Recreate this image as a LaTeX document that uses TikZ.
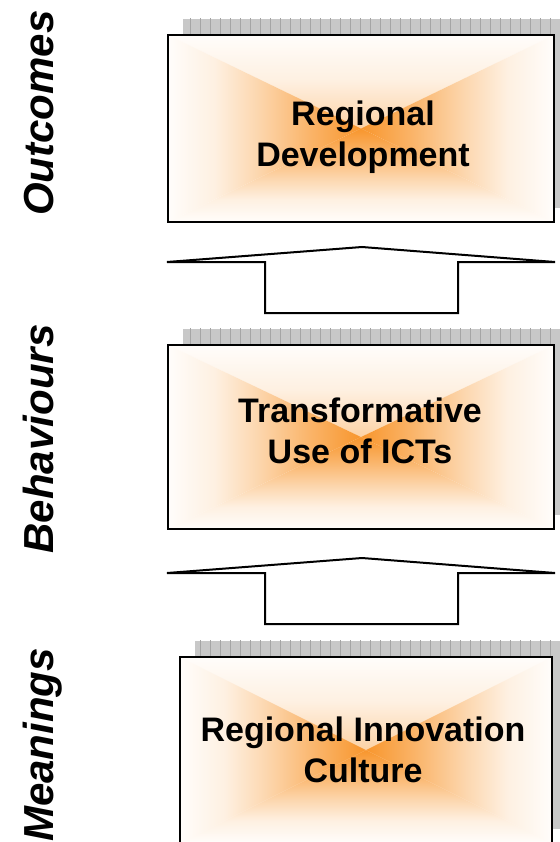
\documentclass[tikz,border=0pt]{standalone}
\usepackage{fontspec}
\setmainfont{Liberation Sans}
\usetikzlibrary{calc}
\definecolor{oc}{RGB}{248,150,45}
\definecolor{shfill}{RGB}{200,200,200}
\definecolor{shline}{RGB}{165,165,165}
\pgfdeclarelayer{bg}
\pgfsetlayers{bg,main}
% centre (orange) at the bottom, edge (white) at the top
\pgfdeclareverticalshading{fadeT}{100bp}{color(0bp)=(oc); color(25bp)=(oc); color(38bp)=(oc!72!white); color(52bp)=(oc!38!white); color(63bp)=(oc!14!white); color(75bp)=(oc!2!white); color(100bp)=(oc!2!white)}
\pgfdeclareverticalshading{fadeB}{100bp}{color(0bp)=(oc!2!white); color(25bp)=(oc!2!white); color(37bp)=(oc!14!white); color(48bp)=(oc!38!white); color(62bp)=(oc!72!white); color(75bp)=(oc); color(100bp)=(oc)}
\pgfdeclarehorizontalshading{fadeL}{100bp}{color(0bp)=(oc!2!white); color(25bp)=(oc!2!white); color(37bp)=(oc!14!white); color(48bp)=(oc!38!white); color(62bp)=(oc!72!white); color(75bp)=(oc); color(100bp)=(oc)}
\pgfdeclarehorizontalshading{fadeR}{100bp}{color(0bp)=(oc); color(25bp)=(oc); color(38bp)=(oc!72!white); color(52bp)=(oc!38!white); color(63bp)=(oc!14!white); color(75bp)=(oc!2!white); color(100bp)=(oc!2!white)}
\tikzset{
  box/.style={draw, line width=2.5pt, rectangle, inner sep=0pt, fill=white,
    path picture={
      \shade[shading=fadeT] (path picture bounding box.north west) -- (path picture bounding box.north east) -- (path picture bounding box.center) -- cycle;
      \shade[shading=fadeB] (path picture bounding box.south west) -- (path picture bounding box.south east) -- (path picture bounding box.center) -- cycle;
      \shade[shading=fadeL] (path picture bounding box.north west) -- (path picture bounding box.south west) -- (path picture bounding box.center) -- cycle;
      \shade[shading=fadeR] (path picture bounding box.north east) -- (path picture bounding box.south east) -- (path picture bounding box.center) -- cycle;
    }},
  boxtext/.style={align=center, inner sep=0pt, font=\fontsize{34}{41}\selectfont\bfseries},
  side/.style={rotate=90, anchor=base, inner sep=0pt, font=\fontsize{42}{50}\selectfont\bfseries\itshape},
  uparrow/.pic={\draw[line width=2pt, fill=white] (-195,15) -- (0,0) -- (193,15) -- (96,15) -- (96,66) -- (-97,66) -- (-97,15) -- cycle;}
}
\begin{document}
\begin{tikzpicture}[x=1pt, y=-1pt]
\useasboundingbox (0,0) rectangle (559,842);
\clip (0,0) rectangle (559,842);
% boxes
\node[box, minimum width=386pt, minimum height=187pt] (b1) at (361,128.5) {};
\node[box, minimum width=386pt, minimum height=184pt] (b2) at (361,437) {};
\node[box, minimum width=372pt, minimum height=186pt] (b3) at (366,750) {};
% shadows
\begin{pgfonlayer}{bg}
\foreach \n in {b1,b2,b3} {
  \begin{scope}
    \clip ([shift={(16,-15)}]\n.north west) rectangle ([shift={(16,-15)}]\n.south east);
    \fill[shfill] ([shift={(16,-15)}]\n.north west) rectangle ([shift={(16,-15)}]\n.south east);
    \draw[shline, line width=0.6pt, step=10] (150,0) grid (600,860);
  \end{scope}
}
\end{pgfonlayer}
% texts
\node[boxtext] (t1) at (363,137) {Regional\\Development};
\node[boxtext] (t2) at (360,431) {Transformative\\Use of ICTs};
\node[boxtext] (t3) at (363,750) {Regional Innovation\\Culture};
% side labels
\node[side] (l1) at (53,113) {Outcomes};
\node[side] (l2) at (53,439) {Behaviours};
\node[side] (l3) at (53,745) {Meanings};
% block arrows
\coordinate (a1) at (362,247);
\coordinate (a2) at (362,558);
\pic at (a1) {uparrow};
\pic at (a2) {uparrow};
\end{tikzpicture}
\end{document}
